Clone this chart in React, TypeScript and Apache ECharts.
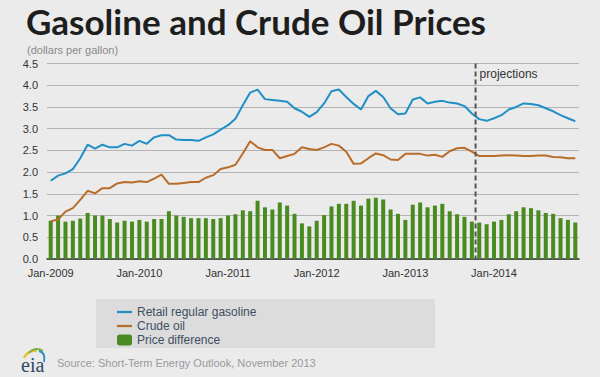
import React, { useEffect, useRef } from "react";
import * as echarts from "echarts";

const MONTHS = ["Jan", "Feb", "Mar", "Apr", "May", "Jun", "Jul", "Aug", "Sep", "Oct", "Nov", "Dec"];
const YEARS = [2009, 2010, 2011, 2012, 2013, 2014];
const categories = YEARS.flatMap((y) => MONTHS.map((m) => `${m}-${y}`));

const gasoline = [
  1.80, 1.92, 1.97, 2.07, 2.32, 2.63, 2.54, 2.63, 2.57, 2.57, 2.65, 2.61,
  2.72, 2.65, 2.80, 2.85, 2.85, 2.75, 2.74, 2.74, 2.72, 2.80, 2.87, 2.98,
  3.08, 3.23, 3.54, 3.83, 3.90, 3.68, 3.66, 3.64, 3.62, 3.47, 3.39, 3.27,
  3.38, 3.58, 3.86, 3.90, 3.73, 3.57, 3.44, 3.75, 3.87, 3.73, 3.47, 3.33,
  3.35, 3.67, 3.72, 3.58, 3.62, 3.64, 3.60, 3.58, 3.52, 3.35, 3.22, 3.18,
  3.24, 3.31, 3.44, 3.50, 3.58, 3.57, 3.54, 3.47, 3.40, 3.31, 3.24, 3.17,
];

const crude = [
  0.87, 0.91, 1.09, 1.17, 1.36, 1.57, 1.51, 1.63, 1.63, 1.74, 1.77, 1.76,
  1.79, 1.77, 1.85, 1.94, 1.73, 1.73, 1.75, 1.77, 1.77, 1.87, 1.93, 2.07,
  2.11, 2.17, 2.43, 2.71, 2.57, 2.51, 2.51, 2.32, 2.37, 2.42, 2.57, 2.53,
  2.51, 2.57, 2.65, 2.61, 2.47, 2.19, 2.20, 2.32, 2.43, 2.39, 2.29, 2.28,
  2.42, 2.42, 2.42, 2.38, 2.40, 2.35, 2.48, 2.55, 2.56, 2.47, 2.37, 2.37,
  2.37, 2.38, 2.39, 2.38, 2.37, 2.37, 2.38, 2.38, 2.35, 2.34, 2.32, 2.32,
];

const difference = [
  0.88, 1.00, 0.86, 0.88, 0.93, 1.06, 1.00, 1.00, 0.92, 0.84, 0.88, 0.86,
  0.90, 0.86, 0.92, 0.92, 1.10, 1.00, 0.97, 0.94, 0.94, 0.94, 0.92, 0.94,
  1.00, 1.03, 1.12, 1.10, 1.34, 1.19, 1.14, 1.30, 1.23, 1.04, 0.82, 0.75,
  0.88, 1.01, 1.21, 1.27, 1.27, 1.34, 1.23, 1.39, 1.41, 1.37, 1.14, 1.04,
  0.90, 1.25, 1.30, 1.19, 1.23, 1.27, 1.10, 1.03, 0.97, 0.86, 0.84, 0.80,
  0.86, 0.90, 1.03, 1.10, 1.19, 1.17, 1.12, 1.06, 1.04, 0.94, 0.90, 0.84,
];

const SERIES_NAMES = ["Retail regular gasoline", "Crude oil", "Price difference"];
const PROJECTION_START = 58; // Nov-2013 is the first projected month

const FONT = "Liberation Sans, Arial, sans-serif";
// thin horizontal bar inside a 15x11 box (move-to points keep the full box)
const LINE_ICON = "path://M0,0 M15,11 M0,4.4 L15,4.4 L15,6.6 L0,6.6 Z";

export default function App() {
  const ref = useRef<HTMLDivElement>(null);

  useEffect(() => {
    if (!ref.current) return;
    const chart = echarts.init(ref.current, null, { renderer: "svg" });
    const option: any = {
      animation: false,
      backgroundColor: "#ebebeb",
      textStyle: { fontFamily: FONT },
      grid: { left: 47, right: 21, top: 63.5, bottom: 118 },
      legend: {
        orient: "vertical",
        left: 117,
        top: 306,
        itemWidth: 15,
        itemHeight: 11,
        itemGap: 2,
        padding: 0,
        textStyle: { fontSize: 12, color: "#3e4f62", fontFamily: FONT },
        data: [
          { name: SERIES_NAMES[0], icon: LINE_ICON },
          { name: SERIES_NAMES[1], icon: LINE_ICON },
          { name: SERIES_NAMES[2], icon: "roundRect" },
        ],
      },
      xAxis: {
        type: "category",
        data: categories,
        boundaryGap: true,
        axisLine: { lineStyle: { color: "#333", width: 1.5 } },
        axisTick: {
          alignWithLabel: true,
          length: 4,
          interval: (i: number) => i % 12 === 0,
          lineStyle: { color: "#333", width: 1.5 },
        },
        axisLabel: {
          interval: (i: number) => i % 12 === 0,
          fontSize: 11,
          color: "#333",
          margin: 8,
          fontFamily: FONT,
        },
      },
      yAxis: {
        type: "value",
        min: 0,
        max: 4.5,
        interval: 0.5,
        axisLine: { show: false },
        axisTick: { show: false },
        axisLabel: {
          fontSize: 11,
          color: "#333",
          margin: 9,
          fontFamily: FONT,
          formatter: (v: number) => v.toFixed(1),
        },
        splitLine: { lineStyle: { color: "#b3b3b3", width: 1 } },
      },
      series: [
        {
          name: SERIES_NAMES[2],
          type: "bar",
          data: difference,
          barWidth: 4,
          itemStyle: { color: "#4a8b21" },
        },
        {
          name: SERIES_NAMES[1],
          type: "line",
          data: crude,
          symbol: "none",
          lineStyle: { color: "#b86d2b", width: 2 },
          itemStyle: { color: "#b86d2b" },
        },
        {
          name: SERIES_NAMES[0],
          type: "line",
          data: gasoline,
          symbol: "none",
          lineStyle: { color: "#1f8fc6", width: 2 },
          itemStyle: { color: "#1f8fc6" },
        },
      ],
      graphic: [
        {
          type: "rect",
          shape: { x: 96, y: 299, width: 339, height: 49 },
          style: { fill: "#dcdcdc" },
          z: -1,
          silent: true,
        },
        {
          type: "text",
          x: 26,
          y: 20.5,
          style: {
            text: "Gasoline and Crude Oil Prices",
            font: "bold 35px Lato, sans-serif",
            fill: "#1e1e1e",
            verticalAlign: "middle",
          },
        },
        {
          type: "text",
          x: 27,
          y: 50,
          style: {
            text: "(dollars per gallon)",
            font: `11px ${FONT}`,
            fill: "#8a8a8a",
            verticalAlign: "middle",
          },
        },
        {
          type: "text",
          x: 57,
          y: 363,
          style: {
            text: "Source: Short-Term Energy Outlook, November 2013",
            font: `11px ${FONT}`,
            fill: "#9a9a9a",
            verticalAlign: "middle",
          },
        },
        {
          type: "text",
          x: 21,
          y: 365,
          style: {
            text: "eia",
            font: "20px Liberation Serif, serif",
            fill: "#2d4a63",
            verticalAlign: "middle",
          },
        },
        {
          type: "bezierCurve",
          shape: { x1: 24, y1: 358, x2: 37, y2: 351, cpx1: 27, cpy1: 352, cpx2: 32, cpy2: 350 },
          style: { stroke: "#e8c23a", lineWidth: 2.5, fill: "none" },
        },
        {
          type: "bezierCurve",
          shape: { x1: 29, y1: 353, x2: 43, y2: 351, cpx1: 33, cpy1: 348, cpx2: 39, cpy2: 348 },
          style: { stroke: "#7cb342", lineWidth: 2, fill: "none" },
        },
        {
          type: "bezierCurve",
          shape: { x1: 39, y1: 351, x2: 44, y2: 362, cpx1: 44, cpy1: 352, cpx2: 45, cpy2: 357 },
          style: { stroke: "#2f8fc0", lineWidth: 1.8, fill: "none" },
        },
      ],
    };
    chart.setOption(option);

    const xa = chart.convertToPixel({ xAxisIndex: 0 }, PROJECTION_START - 1) as number;
    const xb = chart.convertToPixel({ xAxisIndex: 0 }, PROJECTION_START) as number;
    const top = chart.convertToPixel({ yAxisIndex: 0 }, 4.5) as number;
    const bottom = chart.convertToPixel({ yAxisIndex: 0 }, 0) as number;
    const xm = (xa + xb) / 2;
    chart.setOption({
      graphic: [
        ...option.graphic,
        {
          type: "line",
          shape: { x1: xm, y1: top, x2: xm, y2: bottom },
          style: { stroke: "#555", lineWidth: 2, lineDash: [5, 3] },
          z: 10,
        },
        {
          type: "text",
          x: xm + 4,
          y: top + 10,
          style: {
            text: "projections",
            font: `12px ${FONT}`,
            fill: "#333",
            verticalAlign: "middle",
          },
          z: 10,
        },
      ],
    });

    return () => chart.dispose();
  }, []);

  return (
    <div
      ref={ref}
      style={{ position: "fixed", left: 0, top: 0, width: 600, height: 377 }}
    />
  );
}
